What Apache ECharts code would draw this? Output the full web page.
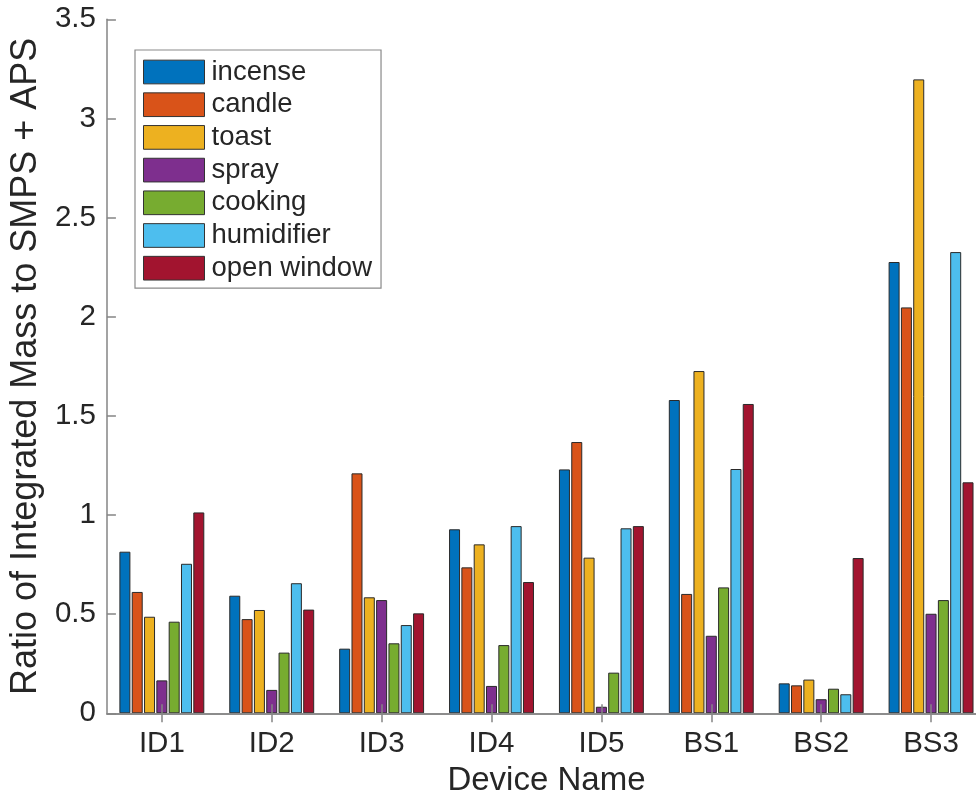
<!DOCTYPE html>
<html>
<head>
<meta charset="utf-8">
<script src="https://cdn.jsdelivr.net/npm/echarts@6/dist/echarts.min.js"></script>
<style>
  html, body { margin: 0; padding: 0; background: #fff; overflow: hidden; }
  /* the plot box runs a little past the right edge of the window */
  #chart { width: 992px; height: 803px; }
</style>
</head>
<body>
<div id="chart"></div>
<script>
// Device names along the x axis
const devices = ['ID1', 'ID2', 'ID3', 'ID4', 'ID5', 'BS1', 'BS2', 'BS3'];

// Ratio of integrated mass to SMPS + APS, one array per source event
const incense    = [0.815, 0.593, 0.326, 0.928, 1.230, 1.580, 0.151, 2.276];
const candle     = [0.612, 0.475, 1.210, 0.736, 1.368, 0.602, 0.141, 2.047];
const toast      = [0.487, 0.521, 0.585, 0.852, 0.785, 1.726, 0.170, 3.197];
const spray      = [0.166, 0.118, 0.571, 0.138, 0.033, 0.391, 0.071, 0.502];
const cooking    = [0.462, 0.306, 0.353, 0.344, 0.205, 0.635, 0.124, 0.571];
const humidifier = [0.754, 0.656, 0.445, 0.944, 0.933, 1.232, 0.096, 2.326];
const openWindow = [1.013, 0.523, 0.504, 0.662, 0.944, 1.560, 0.783, 1.165];

const seriesNames = ['incense', 'candle', 'toast', 'spray', 'cooking', 'humidifier', 'open window'];
const seriesData = [incense, candle, toast, spray, cooking, humidifier, openWindow];
const palette = ['#0072BD', '#D95319', '#EDB120', '#7E2F8E', '#77AC30', '#4DBEEE', '#A2142F'];

// Value axis ticks
const yMin = 0, yMax = 3.5, yStep = 0.5;

const FONT = '"Liberation Sans", Arial, Helvetica, sans-serif';
const TEXT = '#262626';
const AXIS = '#858585';

const chart = echarts.init(document.getElementById('chart'), null, { renderer: 'canvas' });

const axisLineStyle = { show: true, lineStyle: { color: AXIS, width: 1.5 } };
const tickStyle = { show: true, inside: true, length: 9, lineStyle: { color: AXIS, width: 1.5 } };

chart.setOption({
  backgroundColor: '#ffffff',
  animation: false,
  color: palette,
  grid: { left: 105, top: 19.3, width: 881, height: 694, containLabel: false },
  legend: {
    orient: 'vertical',
    left: 135,
    top: 50,
    padding: [8, 9, 6, 8],
    itemWidth: 61,
    itemHeight: 23.7,
    itemGap: 4.7,
    borderColor: '#8a8a8a',
    borderWidth: 1.2,
    backgroundColor: '#ffffff',
    icon: 'rect',
    textStyle: { fontFamily: FONT, fontSize: 27.5, color: TEXT, padding: [0, 0, 0, 2] },
    itemStyle: { borderColor: '#333', borderWidth: 1 },
    data: seriesNames
  },
  xAxis: [
    {
      type: 'category',
      data: devices,
      position: 'bottom',
      z: 5,
      axisLine: axisLineStyle,
      axisTick: Object.assign({ alignWithLabel: true }, tickStyle),
      axisLabel: { fontFamily: FONT, fontSize: 29.5, color: TEXT, margin: 16 },
      name: 'Device Name',
      nameLocation: 'middle',
      nameGap: 50,
      nameTextStyle: { fontFamily: FONT, fontSize: 33, color: TEXT },
      splitLine: { show: false }
    },
    {
      type: 'category',
      data: devices,
      position: 'top',
      z: 5,
      axisLine: axisLineStyle,
      axisTick: Object.assign({ alignWithLabel: true }, tickStyle),
      axisLabel: { show: false },
      splitLine: { show: false }
    }
  ],
  yAxis: [
    {
      type: 'value',
      min: yMin,
      max: yMax,
      interval: yStep,
      position: 'left',
      z: 5,
      axisLine: axisLineStyle,
      axisTick: tickStyle,
      axisLabel: { fontFamily: FONT, fontSize: 29.5, color: TEXT, margin: 11 },
      splitLine: { show: false },
      name: 'Ratio of Integrated Mass to SMPS + APS',
      nameLocation: 'middle',
      nameGap: 48,
      nameTextStyle: { fontFamily: FONT, fontSize: 36, color: TEXT }
    },
    {
      type: 'value',
      min: yMin,
      max: yMax,
      interval: yStep,
      position: 'right',
      z: 5,
      axisLine: axisLineStyle,
      axisTick: tickStyle,
      axisLabel: { show: false },
      splitLine: { show: false }
    }
  ],
  series: seriesNames.map((name, i) => ({
    name: name,
    type: 'bar',
    xAxisIndex: 0,
    yAxisIndex: 0,
    data: seriesData[i],
    barWidth: 11,
    barGap: '12%',
    itemStyle: { color: palette[i], borderColor: '#2a2a2a', borderWidth: 1 }
  }))
});
</script>
</body>
</html>
